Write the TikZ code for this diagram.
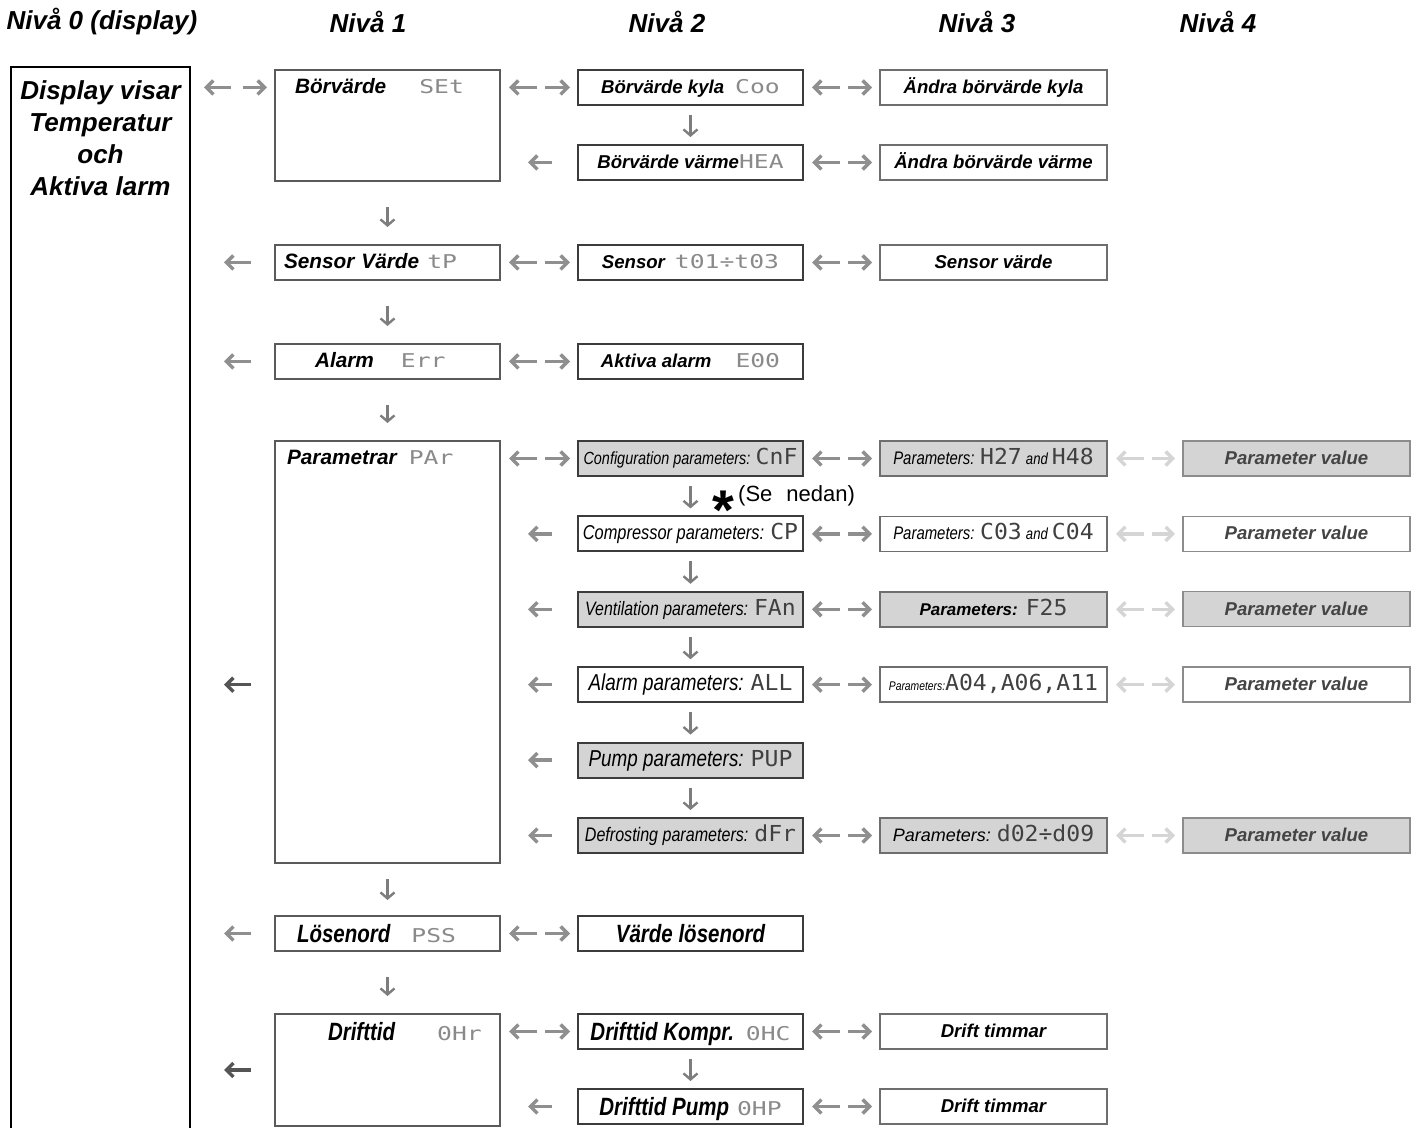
\documentclass[tikz,border=0pt]{standalone}
\usepackage{fontspec}
\setmainfont{Liberation Sans}
\newfontfamily\narrowfont[FakeStretch=0.82]{Liberation Sans}
\newfontfamily\segfont[FakeStretch=1.3]{DejaVu Sans Mono}
\newfontfamily\segbfont[FakeStretch=1.05]{DejaVu Sans Mono}
\usepackage{tikz}
\usetikzlibrary{arrows.meta,positioning,calc}
\definecolor{fmbox}{HTML}{5A5A5A}
\definecolor{fmboxdark}{HTML}{3C3C3C}
\definecolor{fmboxmid}{HTML}{6E6E6E}
\definecolor{fmboxlight}{HTML}{8C8C8C}
\definecolor{fmfill}{HTML}{D4D4D4}
\definecolor{fmarrow}{HTML}{8F8F8F}
\definecolor{fmfaint}{HTML}{D5D5D5}
\definecolor{fmdark}{HTML}{555555}
\definecolor{fmdown}{HTML}{7D7D7D}
\definecolor{fmseg}{HTML}{8A8A8A}
\definecolor{fmsegdark}{HTML}{404040}
\definecolor{fmvalue}{HTML}{444444}
\newcommand\seg[1]{{\segfont\fontsize{9.5}{11}\selectfont\mdseries\upshape\color{fmseg}#1}}
\newcommand\segb[1]{{\segbfont\fontsize{11}{12}\selectfont\mdseries\upshape\color{fmsegdark}#1}}
\tikzset{
  lvhead/.style={font=\fontsize{13}{15}\selectfont\bfseries\itshape},
  lvbox/.style={draw=fmbox,line width=1pt,outer sep=0pt,fill=white,minimum width=112.5pt,
    inner xsep=2pt,inner ysep=3.95pt,text height=7.8pt,text depth=1.8pt,
    font=\fontsize{9.3}{11}\selectfont\bfseries\itshape},
  lvone/.style={lvbox,text width=103.5pt,inner xsep=4.5pt,align=left,
    font=\fontsize{10.4}{12}\selectfont\bfseries\itshape},
  lvtwo/.style={lvbox,draw=fmboxdark},
  lvthree/.style={lvbox,draw=fmboxmid,line width=.8pt,minimum width=113.5pt},
  lvfour/.style={lvbox,draw=fmboxlight,line width=.7pt,minimum width=113.5pt,text=fmvalue},
  grayfill/.style={fill=fmfill},
  narrowtxt/.style={font=\fontsize{#1}{12}\selectfont\narrowfont\mdseries\itshape},
  narrowbold/.style={font=\fontsize{12.5}{14}\selectfont\narrowfont\bfseries\itshape,
    text height=9.6pt,text depth=1pt,inner ysep=3.45pt},
  dispbox/.style={draw=black,line width=1.2pt,outer sep=0pt,minimum width=89.5pt,inner xsep=.75pt,
    inner ysep=7pt,font=\fontsize{13}{16}\selectfont\bfseries\itshape},
  twoway/.style={{Straight Barb[length=3.5pt,width=7pt]}-{Straight Barb[length=3.5pt,width=7pt]},
    line width=1.7pt,draw=fmarrow,shorten <=4.5pt,shorten >=4pt,
    dash pattern=on 12pt off 4pt on 40pt},
  goback/.style={-{Straight Barb[length=3.5pt,width=7pt]},line width=1.7pt,draw=fmarrow,
    shorten <=13pt,shorten >=14pt},
  backfar/.style={goback,shorten <=12pt,shorten >=17pt},
  godown/.style={-{Straight Barb[length=3pt,width=7pt]},line width=1.2pt,draw=fmdown,
    shorten <=5pt,shorten >=4pt},
  downfar/.style={godown,shorten <=13pt,shorten >=9pt},
  note/.style={font=\fontsize{11}{13}\selectfont,inner sep=0pt}
}
\begin{document}
\begin{tikzpicture}[x=0.5pt,y=-0.5pt]
  \useasboundingbox (0,0) rectangle (1421,1128);
  % column titles
  \node[lvhead] (h0) at (102,22) {Nivå 0 (display)};
  \node[lvhead] (h1) at (368,22) {Nivå 1};
  \node[lvhead] (h2) at (667,22) {Nivå 2};
  \node[lvhead] (h3) at (977,22) {Nivå 3};
  \node[lvhead] (h4) at (1218,22) {Nivå 4};
  % level 2
  \node[lvtwo,anchor=north west] (kyla) at (578,70) {Börvärde kyla\hspace{5.5pt}\seg{Coo}};
  \node[lvtwo,below=20pt of kyla] (varme) {Börvärde värme\seg{HEA}};
  \node[lvtwo,below=32.5pt of varme] (sensor) {Sensor\hspace{5pt}\seg{t01÷t03}};
  \node[lvtwo,below=32pt of sensor] (aktiv) {Aktiva alarm\hspace{12pt}\seg{E00}};
  \node[lvtwo,grayfill,narrowtxt=8.8,below=31pt of aktiv] (cnf) {Configuration parameters: \segb{CnF}};
  \node[lvtwo,narrowtxt=10,below=20.2pt of cnf] (cp) {Compressor parameters: \segb{CP}};
  \node[lvtwo,grayfill,narrowtxt=9.7,below=20.2pt of cp] (fan) {Ventilation parameters: \segb{FAn}};
  \node[lvtwo,narrowtxt=11.5,below=20.2pt of fan] (alarmp) {Alarm parameters: \segb{ALL}};
  \node[lvtwo,grayfill,narrowtxt=11.5,below=20.2pt of alarmp] (pump) {Pump parameters: \segb{PUP}};
  \node[lvtwo,grayfill,narrowtxt=9.8,below=20.2pt of pump] (defr) {Defrosting parameters: \segb{dFr}};
  \node[lvtwo,narrowbold,below=31.5pt of defr] (losvarde) {Värde lösenord};
  \node[lvtwo,narrowbold,below=31.5pt of losvarde] (kompr) {Drifttid Kompr.\hspace{6pt}\seg{0HC}};
  \node[lvtwo,narrowbold,below=20pt of kompr] (pumptid) {Drifttid Pump\hspace{4pt}\seg{0HP}};
  % level 1
  \node[lvone,left=39pt of kyla.north west,anchor=north east,text depth=39.8pt] (setp) {\hspace*{5.5pt}Börvärde\hspace{16.5pt}\seg{SEt}};
  \node[lvone,left=39pt of sensor] (sensv) {Sensor Värde\hspace{4pt}\seg{tP}};
  \node[lvone,left=39pt of aktiv] (errn) {\hspace*{15.5pt}Alarm\hspace{13.5pt}\seg{Err}};
  \node[lvone,left=39pt of cnf.north west,anchor=north east,text depth=195.3pt] (par) {\hspace*{1.5pt}Parametrar\hspace{6pt}\seg{PAr}};
  \node[lvone,narrowbold,left=39pt of losvarde] (pss) {\hspace*{6.5pt}Lösenord\hspace{10.5pt}\seg{PSS}};
  \node[lvone,narrowbold,left=39pt of kompr.north west,anchor=north east,text depth=39.5pt] (drift) {\hspace*{22pt}Drifttid\hspace{21pt}\seg{0Hr}};
  % level 0
  \node[dispbox,left=42.5pt of setp.north west,anchor=north east,yshift=1.5pt,text depth=545pt] (disp)
    {\parbox[t]{88pt}{\centering Display visar\\Temperatur\\och\\Aktiva larm}};
  % level 3
  \node[lvthree,right=38.5pt of kyla] (andkyla) {Ändra börvärde kyla};
  \node[lvthree,right=38.5pt of varme] (andvarme) {Ändra börvärde värme};
  \node[lvthree,right=38.5pt of sensor] (sensvarde) {Sensor värde};
  \node[lvthree,grayfill,narrowtxt=9.1,right=38.5pt of cnf] (pcnf) {Parameters: \segb{H27} {\fontsize{8}{10}\selectfont and} \segb{H48}};
  \node[lvthree,narrowtxt=9.1,right=38.5pt of cp] (pcp) {Parameters: \segb{C03} {\fontsize{8}{10}\selectfont and} \segb{C04}};
  \node[lvthree,grayfill,font=\fontsize{8.5}{10}\selectfont\bfseries\itshape,right=38.5pt of fan] (pfan) {Parameters:\hspace{4pt}\segb{F25}};
  \node[lvthree,narrowtxt=6.3,right=38.5pt of alarmp] (palarm) {Parameters:\segb{A04,A06,A11}};
  \node[lvthree,grayfill,font=\fontsize{9}{11}\selectfont\itshape,right=38.5pt of defr] (pdefr) {Parameters:\hspace{3pt}\segb{d02÷d09}};
  \node[lvthree,right=38.5pt of kompr] (tkompr) {Drift timmar};
  \node[lvthree,right=38.5pt of pumptid] (tpump) {Drift timmar};
  % level 4
  \node[lvfour,grayfill,right=38pt of pcnf] (vcnf) {Parameter value};
  \node[lvfour,right=38pt of pcp] (vcp) {Parameter value};
  \node[lvfour,grayfill,right=38pt of pfan] (vfan) {Parameter value};
  \node[lvfour,right=38pt of palarm] (valarm) {Parameter value};
  \node[lvfour,grayfill,right=38pt of pdefr] (vdefr) {Parameter value};
  % note
  \node[note,anchor=base west] (nedan) at (712,502)
    {\raisebox{-14pt}[0pt][0pt]{\fontsize{28}{28}\selectfont\bfseries *}\hspace{2pt}(Se\hspace{7pt}nedan)};
  % two-way arrows
  \draw[twoway,shorten <=7pt,dash pattern=on 11.5pt off 6pt on 40pt] (disp.east |- kyla) -- (setp.west |- kyla);
  \draw[twoway] (setp.east |- kyla) -- (kyla);
  \draw[twoway] (sensv) -- (sensor);
  \draw[twoway] (errn) -- (aktiv);
  \draw[twoway] (par.east |- cnf) -- (cnf);
  \draw[twoway] (pss) -- (losvarde);
  \draw[twoway] (drift.east |- kompr) -- (kompr);
  \draw[twoway] (kyla) -- (andkyla);
  \draw[twoway] (varme) -- (andvarme);
  \draw[twoway] (sensor) -- (sensvarde);
  \draw[twoway] (cnf) -- (pcnf);
  \draw[twoway] (cp) -- (pcp);
  \draw[twoway] (fan) -- (pfan);
  \draw[twoway] (alarmp) -- (palarm);
  \draw[twoway] (defr) -- (pdefr);
  \draw[twoway] (kompr) -- (tkompr);
  \draw[twoway] (pumptid) -- (tpump);
  \draw[twoway,draw=fmfaint] (pcnf) -- (vcnf);
  \draw[twoway,draw=fmfaint] (pcp) -- (vcp);
  \draw[twoway,draw=fmfaint] (pfan) -- (vfan);
  \draw[twoway,draw=fmfaint] (palarm) -- (valarm);
  \draw[twoway,draw=fmfaint] (pdefr) -- (vdefr);
  % back arrows
  \draw[goback] (varme) -- (varme -| setp.east);
  \draw[goback] (cp) -- (cp -| par.east);
  \draw[goback] (fan) -- (fan -| par.east);
  \draw[goback] (alarmp) -- (alarmp -| par.east);
  \draw[goback] (pump) -- (pump -| par.east);
  \draw[goback] (defr) -- (defr -| par.east);
  \draw[goback] (pumptid) -- (pumptid -| drift.east);
  \draw[backfar] (sensv) -- (sensv -| disp.east);
  \draw[backfar] (errn) -- (errn -| disp.east);
  \draw[backfar,draw=fmdark] (par.west |- alarmp) -- (alarmp -| disp.east);
  \draw[backfar] (pss) -- (pss -| disp.east);
  \draw[backfar,draw=fmdark] (drift) -- (drift -| disp.east);
  % down arrows
  \draw[godown] (kyla) -- (varme);
  \draw[godown] (cnf) -- (cp);
  \draw[godown] (cp) -- (fan);
  \draw[godown] (fan) -- (alarmp);
  \draw[godown] (alarmp) -- (pump);
  \draw[godown] (pump) -- (defr);
  \draw[godown] (kompr) -- (pumptid);
  \draw[downfar] (setp) -- (sensv);
  \draw[downfar] (sensv) -- (errn);
  \draw[downfar] (errn) -- (par);
  \draw[downfar,shorten <=8pt,shorten >=8pt] (par) -- (pss);
  \draw[downfar] (pss) -- (drift);
\end{tikzpicture}
\end{document}
